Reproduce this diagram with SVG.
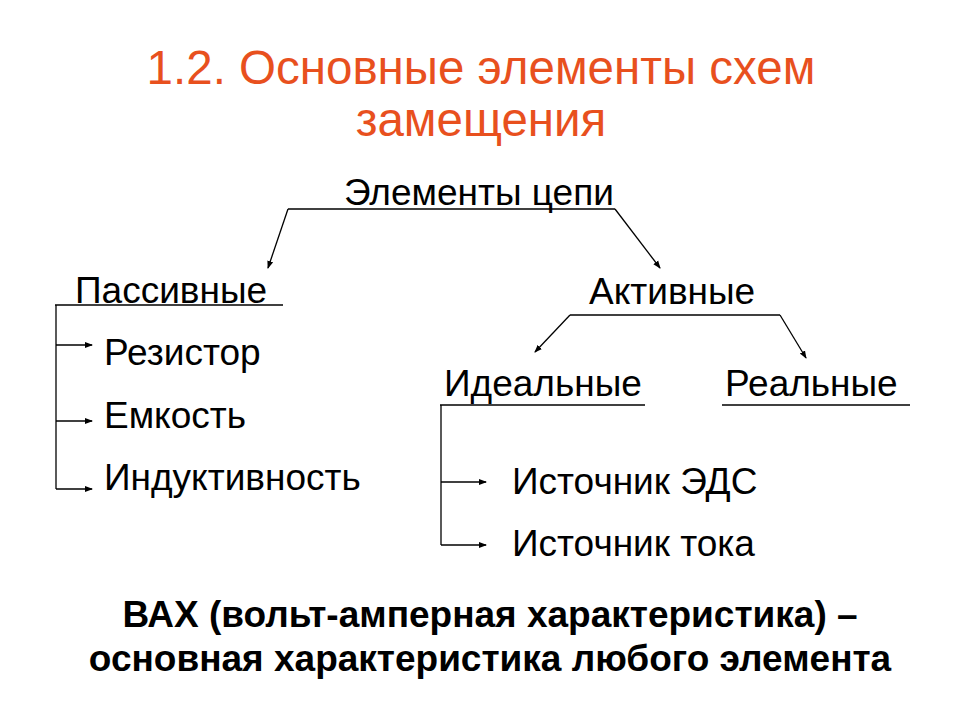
<svg xmlns="http://www.w3.org/2000/svg" width="960" height="720" viewBox="0 0 960 720">
<style>
.t{font-family:"Liberation Sans",Arial,sans-serif;font-size:37px;fill:#000}
.h{font-family:"Liberation Sans",Arial,sans-serif;font-size:47.5px;fill:#e8501e}
.b{font-family:"Liberation Sans",Arial,sans-serif;font-size:37px;font-weight:bold;fill:#000;text-anchor:middle}
line{stroke:#000;stroke-width:1.3;fill:none}
</style>
<defs><marker id="a" markerWidth="8" markerHeight="8" refX="7" refY="4" orient="auto" markerUnits="userSpaceOnUse"><path d="M0,1 L8,4 L0,7 Z" fill="#000"/></marker></defs>
<rect width="960" height="720" fill="#fff"/>
<text class="h" x="481" y="84" text-anchor="middle">1.2. Основные элементы схем</text>
<text class="h" x="481" y="136" text-anchor="middle">замещения</text>
<g id="root"><text class="t" x="344" y="205">Элементы цепи</text></g>
<g id="passive"><text class="t" x="75" y="303">Пассивные</text></g>
<g id="active"><text class="t" x="589" y="304">Активные</text></g>
<g id="r"><text class="t" x="104" y="365">Резистор</text></g>
<g id="c"><text class="t" x="104" y="428">Емкость</text></g>
<g id="l"><text class="t" x="104" y="490">Индуктивность</text></g>
<g id="ideal"><text class="t" x="444" y="396">Идеальные</text></g>
<g id="real"><text class="t" x="725" y="396">Реальные</text></g>
<g id="emf"><text class="t" x="512" y="494">Источник ЭДС</text></g>
<g id="cur"><text class="t" x="512" y="556">Источник тока</text></g>
<g id="note"><text class="b" x="490" y="627">ВАХ (вольт-амперная характеристика) –</text>
<text class="b" x="490" y="671">основная характеристика любого элемента</text></g>
<g id="connectors">
<line x1="288" y1="209" x2="615" y2="209"/>
<line x1="288" y1="209" x2="268" y2="268" marker-end="url(#a)"/>
<line x1="615" y1="209" x2="660" y2="268" marker-end="url(#a)"/>
<line x1="55" y1="305" x2="283" y2="305"/>
<line x1="56" y1="305" x2="56" y2="489"/>
<line x1="56" y1="345" x2="92" y2="345" marker-end="url(#a)"/>
<line x1="56" y1="421" x2="92" y2="421" marker-end="url(#a)"/>
<line x1="56" y1="489" x2="92" y2="489" marker-end="url(#a)"/>
<line x1="570" y1="315" x2="780" y2="315"/>
<line x1="570" y1="315" x2="535" y2="352" marker-end="url(#a)"/>
<line x1="780" y1="315" x2="806" y2="358" marker-end="url(#a)"/>
<line x1="440" y1="405" x2="645" y2="405"/>
<line x1="722" y1="405" x2="910" y2="405"/>
<line x1="441" y1="405" x2="441" y2="545"/>
<line x1="441" y1="482" x2="486" y2="482" marker-end="url(#a)"/>
<line x1="441" y1="545" x2="486" y2="545" marker-end="url(#a)"/>
</g>
</svg>
